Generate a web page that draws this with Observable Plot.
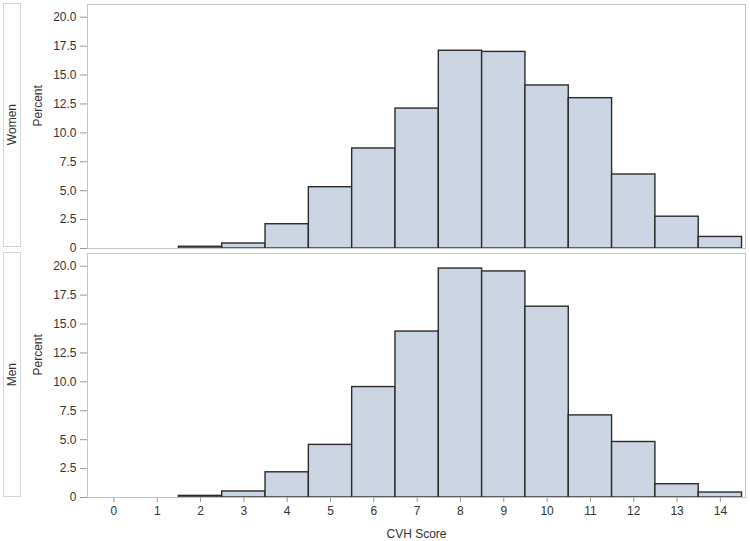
<!DOCTYPE html>
<html>
<head>
<meta charset="utf-8">
<script src="https://cdn.jsdelivr.net/npm/d3@7"></script>
<script src="https://cdn.jsdelivr.net/npm/@observablehq/plot@0.6"></script>
<style>
  html, body { margin: 0; padding: 0; background: #fff; }
  #wrap { position: relative; width: 750px; height: 541px; font-family: "Liberation Sans", Arial, sans-serif; }
  .panel-label { position: absolute; left: 3px; width: 18px; border: 1px solid #d4d4d4; box-sizing: border-box; display: flex; align-items: center; justify-content: center; }
  .panel-label span { writing-mode: vertical-rl; transform: rotate(180deg); font-size: 12px; color: #333; }
  #chart { position: absolute; left: 0; top: 0; }
</style>
</head>
<body>
<div id="wrap">
  <div class="panel-label" style="top:3px;height:244px;"><span>Women</span></div>
  <div class="panel-label" style="top:252px;height:245px;"><span>Men</span></div>
  <div id="chart"></div>
</div>
<script>
const scores = [0, 1, 2, 3, 4, 5, 6, 7, 8, 9, 10, 11, 12, 13, 14];
const groups = ["Women", "Men"];
const womenPct = [0, 0, 0.15, 0.43, 2.1, 5.3, 8.65, 12.1, 17.1, 17.0, 14.1, 13.0, 6.4, 2.75, 1.0];
const menPct   = [0, 0, 0.14, 0.52, 2.18, 4.55, 9.55, 14.35, 19.8, 19.55, 16.5, 7.1, 4.8, 1.15, 0.43];
const yTicks = [0, 2.5, 5, 7.5, 10, 12.5, 15, 17.5, 20];

const data = [];
scores.forEach((s, i) => {
  data.push({group: "Women", score: s, pct: womenPct[i]});
  data.push({group: "Men", score: s, pct: menPct[i]});
});

const fmt = d => d === 0 ? "0" : d.toFixed(1);

const chart = Plot.plot({
  width: 750,
  height: 541,
  marginLeft: 87,
  marginRight: 5,
  marginTop: 3,
  marginBottom: 44,
  style: {fontFamily: "'Liberation Sans', Arial, sans-serif", fontSize: "12px", color: "#333"},
  x: {domain: [-0.61, 14.58], ticks: scores},
  y: {domain: [0, 21.1]},
  fy: {domain: groups, paddingInner: 0.0202, paddingOuter: 0, axis: null},
  marks: [
    Plot.rect(data.filter(d => d.pct > 0), {
      x1: d => d.score - 0.5,
      x2: d => d.score + 0.5,
      y1: 0,
      y2: "pct",
      fy: "group",
      fill: "#cbd5e4",
      stroke: "#2b2b2b",
      strokeWidth: 1.4
    }),
    Plot.frame({stroke: "#c4c4c4"}),
    Plot.axisY({ticks: yTicks, tickFormat: fmt, tickSize: 7, tickPadding: 4, stroke: "#999", fill: "#333", label: null}),
    Plot.text(groups, {fy: d => d, text: () => "Percent", frameAnchor: "left", rotate: -90, dx: -49, fill: "#333"}),
    Plot.axisX({ticks: scores, tickFormat: d => String(d), tickSize: 5, tickPadding: 4, stroke: "#999", fill: "#333", label: "CVH Score", labelAnchor: "center", labelOffset: 40, labelArrow: false})
  ]
});
document.getElementById("chart").appendChild(chart);
</script>
</body>
</html>
